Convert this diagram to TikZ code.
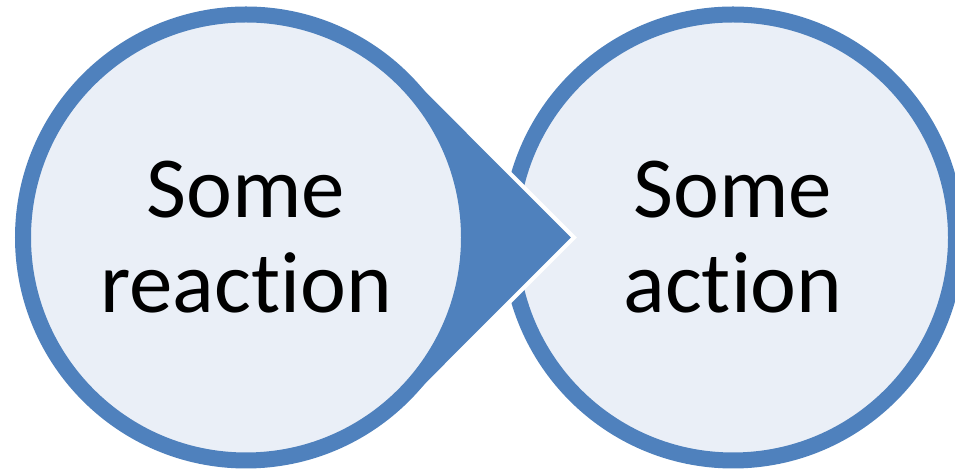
\documentclass[tikz,border=0pt]{standalone}
\usepackage{fontspec}
\setmainfont{Carlito}[RawFeature=-liga]
\usetikzlibrary{calc}
\definecolor{ringblue}{HTML}{4F81BD}
\definecolor{discfill}{HTML}{EAEFF7}

\begin{document}
\begin{tikzpicture}[x=1pt,y=1pt,
  disc/.style={circle,draw=ringblue,fill=discfill,line width=16pt,
    minimum size=446pt,inner sep=0pt,align=center,
    font=\fontsize{87}{95}\selectfont}]
  \useasboundingbox (0,0) rectangle (955,470);
  \coordinate (rc) at (246,232.5);
  \coordinate (tip) at (574,232.5);
  \node[disc] (action) at (733,232.5) {Some\\action};
  % pointed tab of the left disc
  \filldraw[fill=ringblue,draw=white,line width=4pt,line join=miter]
    (tip) -- ($(rc)+(45:232)$) arc[start angle=45,end angle=315,radius=232] -- cycle;
  \node[disc] (reaction) at (rc) {Some\\reaction};
\end{tikzpicture}
\end{document}
